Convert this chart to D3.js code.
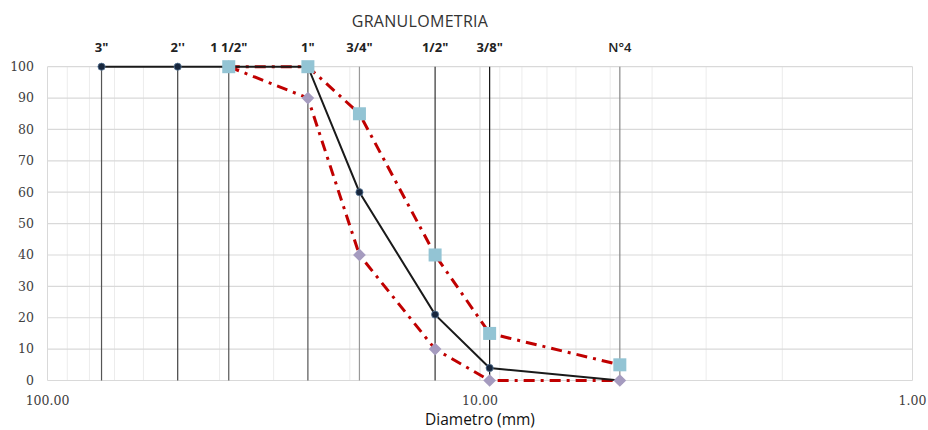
<!DOCTYPE html>
<html>
<head>
<meta charset="utf-8">
<script src="https://cdn.jsdelivr.net/npm/d3@7"></script>
<style>
  body { margin: 0; background: #fff; }
  svg { display: block; }
</style>
</head>
<body>
<svg id="chart" width="928" height="430"></svg>
<script>
// ---- data ----
const sieveLabels = ["3\"", "2''", "1 1/2\"", "1\"", "3/4\"", "1/2\"", "3/8\"", "N°4"];
const sieveSizes  = [75, 50, 38.1, 25, 19, 12.7, 9.5, 4.75];
const passing     = [100, 100, 100, 100, 60, 21, 4, 0];
const upperSizes  = [38.1, 25, 19, 12.7, 9.5, 4.75];
const upperLimit  = [100, 100, 85, 40, 15, 5];
const lowerSizes  = [38.1, 25, 19, 12.7, 9.5, 4.75];
const lowerLimit  = [100, 90, 40, 10, 0, 0];
const yTicks      = [0, 10, 20, 30, 40, 50, 60, 70, 80, 90, 100];
const xTicks      = [100, 10, 1];
const titleText   = "GRANULOMETRIA";
const xTitle      = "Diametro (mm)";

// ---- layout ----
const svg = d3.select("#chart");
const L = 47.5, R = 912.5, T = 66.7, B = 380.5;
const x = d3.scaleLog().domain([100, 1]).range([L, R]);
const y = d3.scaleLinear().domain([0, 100]).range([B, T]);

// minor log grid
const minor = [];
for (let d = 1; d <= 10; d *= 10) for (let k = 2; k <= 9; k++) minor.push(k * d);
svg.append("g").selectAll("line").data(minor).join("line")
  .attr("x1", d => x(d)).attr("x2", d => x(d)).attr("y1", T).attr("y2", B)
  .attr("stroke", "#ececec").attr("stroke-width", 1);
// major vertical grid
svg.append("g").selectAll("line").data(xTicks).join("line")
  .attr("x1", d => x(d)).attr("x2", d => x(d)).attr("y1", T).attr("y2", B)
  .attr("stroke", "#d9d9d9").attr("stroke-width", 1);
// horizontal grid
svg.append("g").selectAll("line").data(yTicks).join("line")
  .attr("x1", L).attr("x2", R).attr("y1", d => y(d)).attr("y2", d => y(d))
  .attr("stroke", "#d9d9d9").attr("stroke-width", 1.2);

// sieve drop lines
const dropColors = ["#555", "#444", "#555", "#555", "#999", "#333", "#111", "#888"];
svg.append("g").selectAll("line").data(sieveSizes).join("line")
  .attr("x1", d => x(d)).attr("x2", d => x(d)).attr("y1", T).attr("y2", B)
  .attr("stroke", (d, i) => dropColors[i]).attr("stroke-width", 1.2);

// y tick labels
svg.append("g").selectAll("text").data(yTicks).join("text")
  .attr("x", 34).attr("y", d => y(d)).attr("dy", "0.35em")
  .attr("text-anchor", "end")
  .attr("font-family", "DejaVu Serif").attr("font-size", 12.5).attr("fill", "#404040")
  .text(d => d);
// x tick labels
svg.append("g").selectAll("text").data(xTicks).join("text")
  .attr("x", d => x(d)).attr("y", 405)
  .attr("text-anchor", "middle")
  .attr("font-family", "DejaVu Serif").attr("font-size", 12.5).attr("fill", "#404040")
  .text(d => d3.format(".2f")(d));

// sieve labels on top
svg.append("g").selectAll("text").data(sieveSizes).join("text")
  .attr("x", d => x(d)).attr("y", 52)
  .attr("text-anchor", "middle")
  .attr("font-family", "Open Sans").attr("font-size", 13)
  .attr("font-weight", (d, i) => i === sieveSizes.length - 1 ? 600 : 700)
  .attr("fill", "#222")
  .text((d, i) => sieveLabels[i]);

// title
svg.append("text").attr("x", 420).attr("y", 27).attr("text-anchor", "middle")
  .attr("font-family", "Open Sans").attr("font-size", 16).attr("fill", "#333")
  .attr("letter-spacing", 0.3)
  .text(titleText);
// x axis title
svg.append("text").attr("x", 480).attr("y", 424.5).attr("text-anchor", "middle")
  .attr("font-family", "Open Sans").attr("font-size", 15.5).attr("fill", "#111")
  .text(xTitle);

// limit lines (dash-dot red)
const lineGen = d3.line().x(d => x(d[0])).y(d => y(d[1]));
const upper = upperSizes.map((s, i) => [s, upperLimit[i]]);
const lower = lowerSizes.map((s, i) => [s, lowerLimit[i]]);
[upper, lower].forEach(pts => {
  svg.append("path").attr("d", lineGen(pts)).attr("fill", "none")
    .attr("stroke", "#c00000").attr("stroke-width", 3)
    .attr("stroke-dasharray", "11,6,3,6");
});

// gradation curve (straight)
const main = sieveSizes.map((s, i) => [s, passing[i]]);
svg.append("path").attr("d", lineGen(main)).attr("fill", "none")
  .attr("stroke", "#1a1a1a").attr("stroke-width", 2);

// main circles
svg.append("g").selectAll("circle").data(main).join("circle")
  .attr("cx", d => x(d[0])).attr("cy", d => y(d[1])).attr("r", 3.6)
  .attr("fill", "#17263d").attr("stroke", "#5a7a9a").attr("stroke-width", 0.8);
// markers: lower (diamonds)
svg.append("g").selectAll("path").data(lower).join("path")
  .attr("transform", d => `translate(${x(d[0])},${y(d[1])}) rotate(45)`)
  .attr("d", "M-4.5,-4.5H4.5V4.5H-4.5Z")
  .attr("fill", "#a59bbf");
// upper squares
svg.append("g").selectAll("rect").data(upper).join("rect")
  .attr("x", d => x(d[0]) - 6.5).attr("y", d => y(d[1]) - 6.5)
  .attr("width", 13).attr("height", 13)
  .attr("fill", "#93c4d4");
</script>
</body>
</html>
